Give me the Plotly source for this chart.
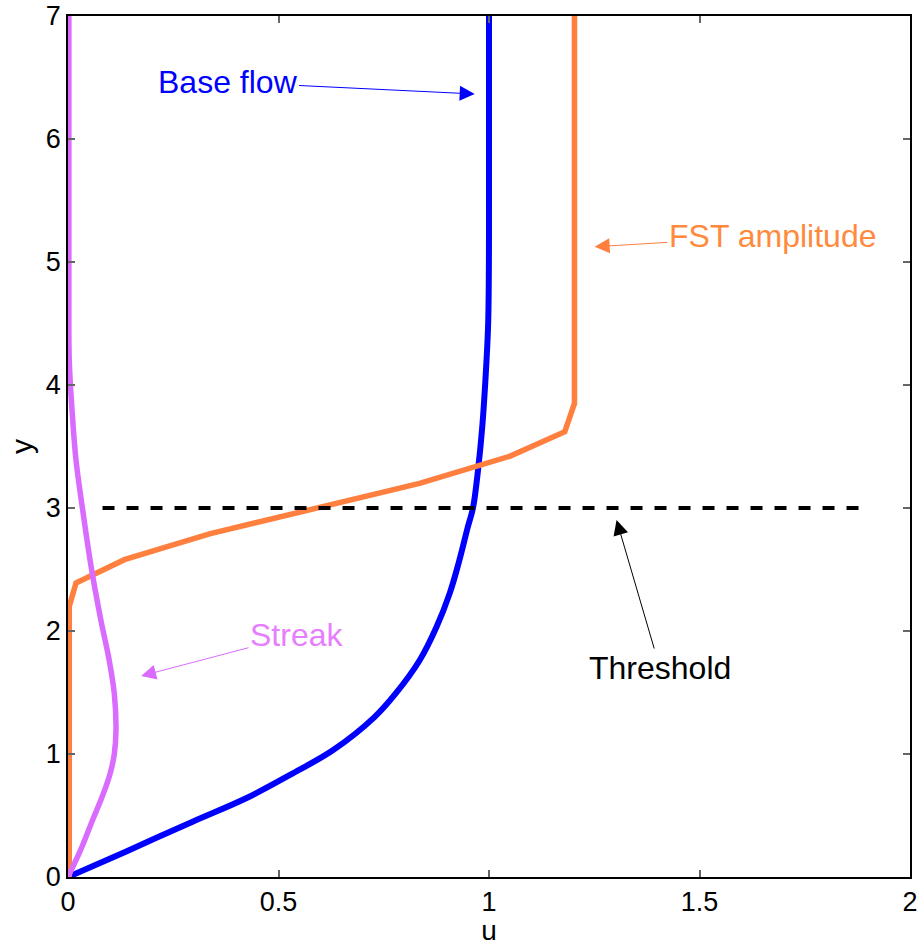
import plotly.graph_objects as go

# ---- data ----
base_u = [0, 0.137, 0.296, 0.423, 0.534, 0.629, 0.728, 0.778, 0.835, 0.875, 0.907,
          0.930, 0.950, 0.962, 0.974, 0.984, 0.992, 0.998, 1.0, 1.0]
base_y = [0, 0.206, 0.45, 0.64, 0.843, 1.03, 1.30, 1.49, 1.76, 2.03, 2.31,
          2.58, 2.85, 3.0, 3.31, 3.66, 4.07, 4.5, 5.2, 7.0]

fst_u = [0.003, 0.003, 0.019, 0.134, 0.336, 0.597, 0.835, 1.049, 1.18, 1.203, 1.203]
fst_y = [0, 2.2, 2.39, 2.58, 2.79, 3.01, 3.20, 3.42, 3.62, 3.85, 7.0]

streak_u = [0, 0.030, 0.058, 0.082, 0.100, 0.110, 0.114, 0.110, 0.098, 0.078, 0.055,
            0.035, 0.019, 0.0095, 0.003, 0.002, 0.002]
streak_y = [0, 0.22, 0.46, 0.66, 0.84, 1.0, 1.195, 1.49, 1.76, 2.09, 2.52,
            2.98, 3.39, 3.80, 4.2, 4.8, 7.0]

thr_u = [0.082, 1.887]
thr_y = [3, 3]

x_ticks = [0, 0.5, 1, 1.5, 2]
x_ticklabels = ["0", "0.5", "1", "1.5", "2"]
y_ticks = [0, 1, 2, 3, 4, 5, 6, 7]

BLUE = "#0000FF"
ORANGE = "#FF7F3F"
PINK = "#D96BFF"
FONT = "Liberation Sans, Arial, sans-serif"

fig = go.Figure()
fig.add_trace(go.Scatter(x=base_u, y=base_y, mode="lines",
                         line=dict(color=BLUE, width=6, shape="spline", smoothing=1.0)))
fig.add_trace(go.Scatter(x=fst_u, y=fst_y, mode="lines",
                         line=dict(color=ORANGE, width=5.5)))
fig.add_trace(go.Scatter(x=streak_u, y=streak_y, mode="lines",
                         line=dict(color=PINK, width=5.5, shape="spline", smoothing=1.0)))
fig.add_trace(go.Scatter(x=thr_u, y=thr_y, mode="lines",
                         line=dict(color="black", width=4, dash="dash")))

def ann(text, x, y, ax, ay, color, tcolor=None):
    fig.add_annotation(text=text, x=x, y=y, ax=ax, ay=ay, axref="x", ayref="y",
                       xref="x", yref="y", showarrow=True, arrowhead=2,
                       arrowsize=3, arrowwidth=1, arrowcolor=color,
                       font=dict(family=FONT, size=32, color=tcolor or color))

ann("Base flow", 0.966, 6.366, 0.379, 6.463, BLUE)
ann("FST amplitude", 1.251, 5.124, 1.674, 5.211, ORANGE, "#FF8A3D")
ann("Streak", 0.1736, 1.634, 0.543, 1.967, PINK, "#E77DFF")
ann("Threshold", 1.303, 2.902, 1.406, 1.699, "black")

axis_common = dict(showline=True, linecolor="black", linewidth=1.5, mirror="ticks",
                   ticks="inside", ticklen=7, tickcolor="#666666", tickwidth=1.5,
                   showgrid=False, zeroline=False, automargin=False,
                   tickfont=dict(family=FONT, size=27, color="black"))

fig.update_layout(
    width=919, height=946,
    margin=dict(l=68, r=9, t=16, b=69, autoexpand=False),
    paper_bgcolor="white", plot_bgcolor="white",
    showlegend=False,
    xaxis=dict(range=[0, 2], tickvals=x_ticks, ticktext=x_ticklabels,
               title=dict(text="u", font=dict(family=FONT, size=28, color="black"), standoff=9),
               **axis_common),
    yaxis=dict(range=[0, 7], tickvals=y_ticks,
               title=dict(text="y", font=dict(family=FONT, size=30, color="black"), standoff=4),
               **axis_common),
)

fig.write_html("out.html")
